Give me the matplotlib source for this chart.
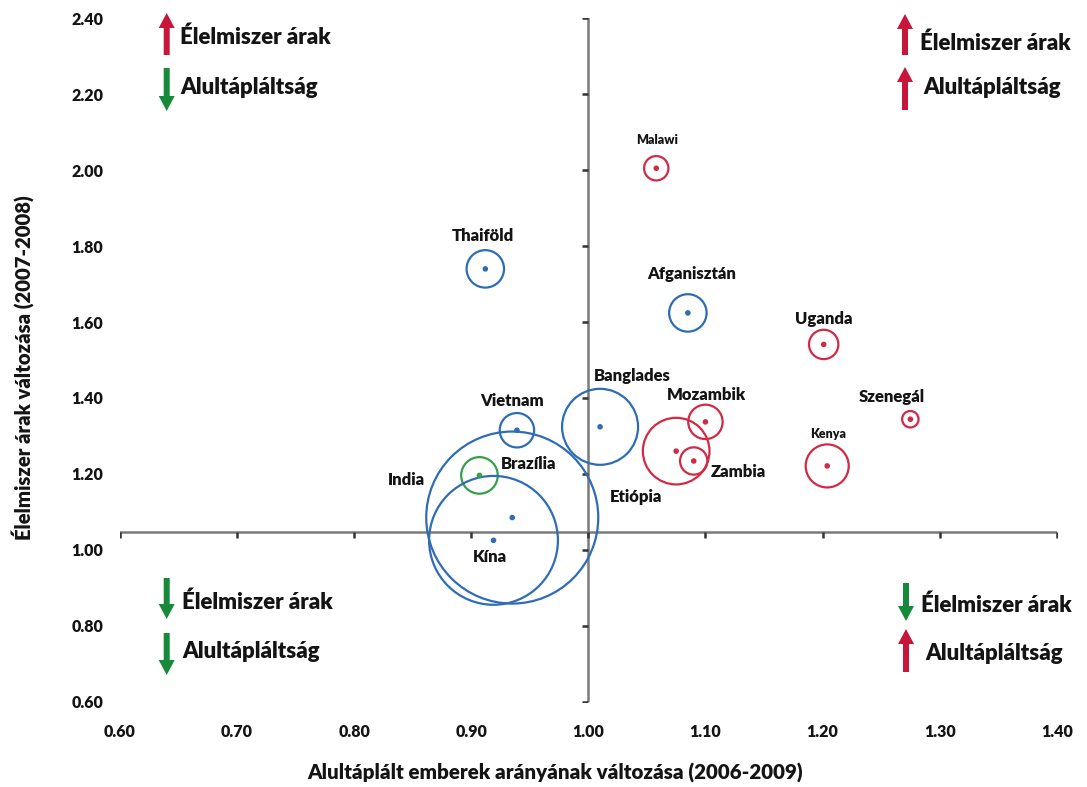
import numpy as np
import matplotlib
matplotlib.use('Agg')
import matplotlib.pyplot as plt
from matplotlib.patches import FancyArrow

plt.rcParams['font.family'] = ['Lato', 'DejaVu Sans']
plt.rcParams['font.weight'] = 'heavy'

# --- adatok ---
countries = ['Thaiföld', 'Malawi', 'Afganisztán', 'Uganda', 'Szenegál', 'Kenya',
             'Mozambik', 'Etiópia', 'Zambia', 'Banglades', 'Vietnam', 'Brazília',
             'India', 'Kína']
undernourished_change = [0.912, 1.058, 1.085, 1.201, 1.275, 1.204,
                         1.100, 1.075, 1.090, 1.010, 0.939, 0.907,
                         0.935, 0.919]
food_price_change = [1.740, 2.005, 1.624, 1.541, 1.344, 1.221,
                     1.337, 1.260, 1.234, 1.324, 1.315, 1.196,
                     1.085, 1.025]
bubble_size = [10.9, 4.6, 10.9, 6.7, 2.1, 14.4,
               9.2, 34.5, 5.8, 44.9, 9.2, 10.4,
               230, 129]
group = ['blue', 'red', 'blue', 'red', 'red', 'red',
         'red', 'red', 'red', 'blue', 'blue', 'green',
         'blue', 'blue']

x_ticks = [0.60, 0.70, 0.80, 0.90, 1.00, 1.10, 1.20, 1.30, 1.40]
y_ticks = [0.60, 0.80, 1.00, 1.20, 1.40, 1.60, 1.80, 2.00, 2.20, 2.40]
h_axis_at = 1.048
v_axis_at = 1.00

# címke eltolások pixelben (dx, dy felfelé)
label_offsets = [(-2, 33), (1, 28), (4, 39), (0, 25), (-19, 22), (1, 32),
                 (1, 27), (-40, -46), (45, -11), (32, 51), (-5, 29), (49, 11),
                 (-106, 38), (-4, -17)]
small_labels = ['Malawi', 'Kenya']

colors = {'blue': '#2E6DB5', 'red': '#D22A45', 'green': '#35A048'}
arrow_red = '#C8163A'
arrow_green = '#17893A'
text_col = '#141414'

W, H = 1087, 787


def fpx(x, y):
    return x / W, 1 - y / H


fig = plt.figure(figsize=(W / 100, H / 100), dpi=100)
ax = fig.add_axes([120 / W, 1 - 701.7 / H, (1056.7 - 120) / W, (701.7 - 18.3) / H])
ax.set_xlim(0.6, 1.4)
ax.set_ylim(0.6, 2.4)
for s in ax.spines.values():
    s.set_visible(False)

ax.set_xticks(x_ticks)
ax.set_xticklabels(['%.2f' % v for v in x_ticks])
ax.set_yticks(y_ticks)
ax.set_yticklabels(['%.2f' % v for v in y_ticks])
ax.tick_params(length=0, labelsize=11.5, labelcolor=text_col)
ax.tick_params(axis='x', pad=16)
ax.tick_params(axis='y', pad=12)

# tengelyvonalak a kereszteződésnél
ax.plot([0.6, 1.4], [h_axis_at, h_axis_at], color='#7a7a7a', lw=1.8, zorder=1)
ax.plot([v_axis_at, v_axis_at], [0.6, 2.4], color='#7a7a7a', lw=1.8, zorder=1)
ax.plot(x_ticks, [h_axis_at] * len(x_ticks), ls='none', marker=3, ms=4,
        mew=1.8, color='#333333', zorder=1)
ax.plot([v_axis_at] * len(y_ticks), y_ticks, ls='none', marker=0, ms=4,
        mew=1.8, color='#333333', zorder=1)

# buborékok
cols = [colors[g] for g in group]
ax.scatter(undernourished_change, food_price_change, s=np.array(bubble_size) * 66.7,
           facecolors='none', edgecolors=cols, linewidths=1.6, zorder=3, clip_on=False)
ax.scatter(undernourished_change, food_price_change, s=9, color=cols, zorder=4)

for name, x, y, (dx, dy) in zip(countries, undernourished_change, food_price_change,
                                label_offsets):
    fs = 9 if name in small_labels else 12
    ax.annotate(name, (x, y), xytext=(dx, dy), textcoords='offset pixels',
                ha='center', va='center', fontsize=fs, fontweight='heavy',
                color=text_col, zorder=5)


# nyilak és magyarázó szövegek a sarkokban
def arrow(x, y_top, y_bot, up, color):
    length = (y_bot - y_top) / H
    if up:
        x0, y0 = fpx(x, y_bot)
        dy = length
    else:
        x0, y0 = fpx(x, y_top)
        dy = -length
    fig.add_artist(FancyArrow(x0, y0, 0, dy, width=6 / W, head_width=16 / W,
                              head_length=15 / H, length_includes_head=True,
                              transform=fig.transFigure, color=color, lw=0))


def note(x, y, txt):
    fx, fy = fpx(x, y)
    fig.text(fx, fy, txt, ha='left', va='center', fontsize=16,
             fontweight='heavy', color=text_col)


arrow(166.7, 13, 55, True, arrow_red)
note(180, 37, 'Élelmiszer árak')
arrow(166.7, 68, 111, False, arrow_green)
note(180, 87, 'Alultápláltság')

arrow(905, 14, 55, True, arrow_red)
note(920, 43, 'Élelmiszer árak')
arrow(905, 67, 110, True, arrow_red)
note(923, 88, 'Alultápláltság')

arrow(166.7, 578, 619, False, arrow_green)
note(182, 602, 'Élelmiszer árak')
arrow(166.7, 633, 675, False, arrow_green)
note(182, 652, 'Alultápláltság')

arrow(906, 583, 621, False, arrow_green)
note(921, 605, 'Élelmiszer árak')
arrow(906, 629, 672, True, arrow_red)
note(925, 653, 'Alultápláltság')

# tengelyfeliratok
fx, fy = fpx(555, 773)
fig.text(fx, fy, 'Alultáplált emberek arányának változása (2006-2009)',
         ha='center', va='center', fontsize=14.8, fontweight='heavy', color=text_col)
fx, fy = fpx(23, 368)
fig.text(fx, fy, 'Élelmiszer árak változása (2007-2008)', rotation=90,
         ha='center', va='center', fontsize=14.6, fontweight='heavy', color=text_col)

fig.savefig('out.png', dpi=100)
